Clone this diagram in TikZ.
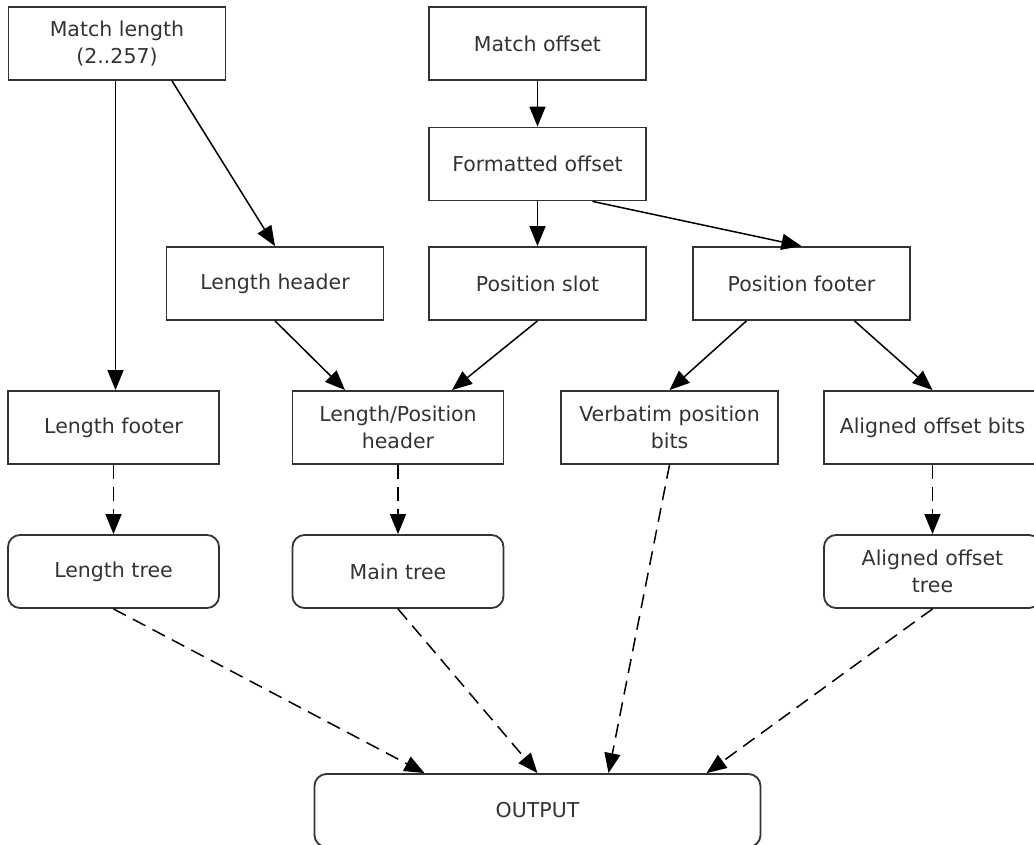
\documentclass[tikz,border=0pt]{standalone}
\usepackage{fontspec}
\setmainfont{DejaVu Sans}
\usetikzlibrary{positioning}
\usetikzlibrary{arrows.meta}

\begin{document}
\begin{tikzpicture}[x=1pt,y=-1pt,on grid,
   font=\fontsize{20.5}{27}\selectfont,
   box/.style={draw=black!80,line width=1.8pt,minimum width=217pt,minimum height=73pt,
     align=center,inner sep=0pt,text=black!80},
   tree/.style={box,rounded corners=12pt},
   flow/.style={line width=1.5pt,-{Triangle[length=20pt,width=16pt]}},
   dflow/.style={flow,dash pattern=on 14pt off 8pt}]
   \useasboundingbox (0,0) rectangle (1034,845);
   % top rows
   \node[box] (mlen) at (117,43.5) {Match length\\(2..257)};
   \node[box] (moff) [right=420.5pt of mlen] {Match offset};
   \node[box] (foff) [below=120.5pt of moff] {Formatted offset};
   \node[box] (pslot) [below=119.5pt of foff] {Position slot};
   \node[box] (lhead) [left=262.5pt of pslot] {Length header};
   \node[box] (pfoot) [right=264pt of pslot] {Position footer};
   % bits and trees
   \node[box,minimum width=211pt] (lfoot) [below=384pt of mlen,xshift=-3.5pt] {Length footer};
   \node[box,minimum width=211pt] (lphead) [right=284.5pt of lfoot] {Length/Position\\header};
   \node[box] (verb) [right=271.5pt of lphead] {Verbatim position\\bits};
   \node[box] (aobits) [right=263pt of verb] {Aligned offset bits};
   \node[tree,minimum width=211pt] (ltree) [below=144pt of lfoot] {Length tree};
   \node[tree,minimum width=211pt] (mtree) [below=144pt of lphead] {Main tree};
   \node[tree] (aotree) [below=144pt of aobits] {Aligned offset\\tree};
   \node[tree,minimum width=446pt] (out) [below=646.5pt of foff] {OUTPUT};
    \path[flow]
    ([xshift=-1.5pt]mlen.south) edge ([xshift=2pt]lfoot.north)
    ([xshift=55pt]mlen.south) edge (lhead.north)
    (moff) edge (foff)
    (foff) edge (pslot)
    ([xshift=55pt]foff.south) edge (pfoot.north)
    (lhead.south) edge ([xshift=-53pt]lphead.north)
    (pslot.south) edge ([xshift=54pt]lphead.north)
    ([xshift=-55pt]pfoot.south) edge (verb.north)
    ([xshift=53pt]pfoot.south) edge (aobits.north);
    \path[dflow]
    (lfoot) edge (ltree)
    (lphead) edge (mtree)
    (aobits) edge (aotree)
    (ltree.south) edge ([xshift=-113pt]out.north)
    (mtree.south) edge (out.north)
    (verb.south) edge ([xshift=71pt]out.north)
    (aotree.south) edge ([xshift=169pt]out.north);
\end{tikzpicture}
\end{document}
